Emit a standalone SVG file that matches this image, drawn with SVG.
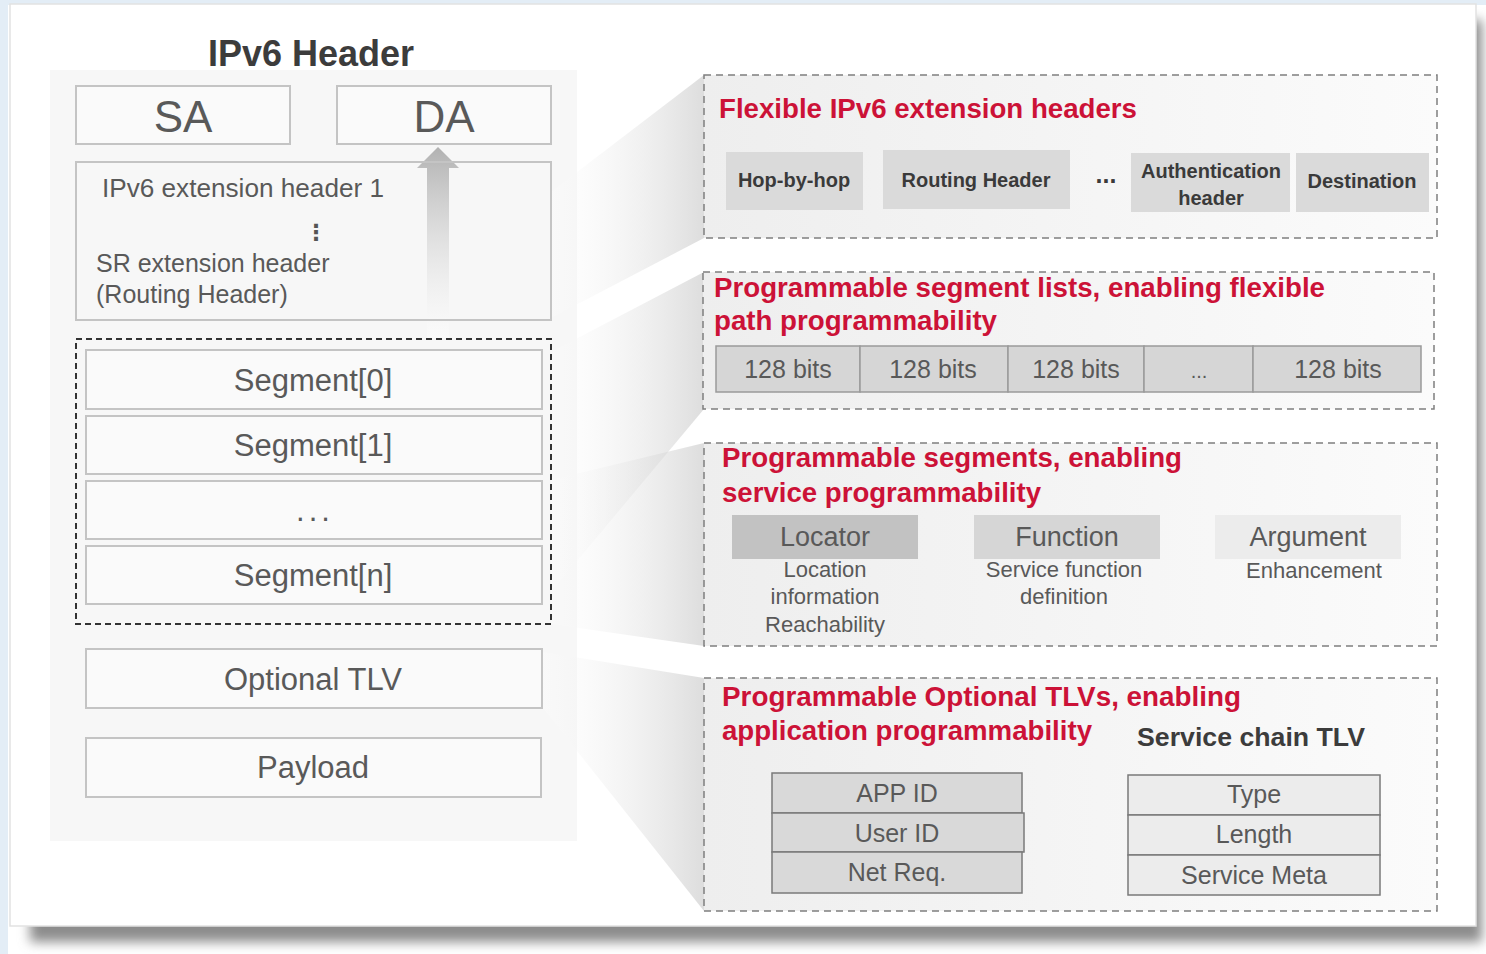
<svg xmlns="http://www.w3.org/2000/svg" width="1486" height="954" viewBox="0 0 1486 954">
  <defs>
    <style>
      .ttl { font-family: "Liberation Sans", Arial, sans-serif; font-weight: bold; fill: #3c3c3c; }
      .red { font-family: "Liberation Sans", Arial, sans-serif; font-weight: bold; font-size: 27px; fill: #cc1237; }
      .body { font-family: "Liberation Sans", Arial, sans-serif; fill: #595959; }
      .chip { font-family: "Liberation Sans", Arial, sans-serif; font-weight: bold; font-size: 20px; fill: #3a3a3a; }
      .mid { text-anchor: middle; }
      .field { fill: #fafafa; stroke: #c4c4c4; stroke-width: 2; }
      .zone { fill: url(#zoneFill); stroke: #7f7f7f; stroke-width: 1.5; stroke-dasharray: 7 5; }
      .chipbox { fill: #dadada; }
      .bits { fill: #d6d6d6; stroke: #9a9a9a; stroke-width: 1.5; }
      .tlvA { fill: #d9d9d9; stroke: #7a7a7a; stroke-width: 1.5; }
      .tlvB { fill: #ececec; stroke: #7a7a7a; stroke-width: 1.5; }
      .funnel { fill: url(#funnelFill); }
    </style>
    <linearGradient id="zoneFill" x1="0" y1="0" x2="1" y2="0">
      <stop offset="0" stop-color="#eeeeee"/>
      <stop offset="1" stop-color="#fbfbfb"/>
    </linearGradient>
    <linearGradient id="funnelFill" x1="0" y1="0" x2="1" y2="0">
      <stop offset="0" stop-color="#ffffff" stop-opacity="0.2"/>
      <stop offset="1" stop-color="#cbcbcb" stop-opacity="0.65"/>
    </linearGradient>
    <linearGradient id="arrowFill" gradientUnits="userSpaceOnUse" x1="0" y1="148" x2="0" y2="338">
      <stop offset="0" stop-color="#b2b2b2"/>
      <stop offset="1" stop-color="#ffffff" stop-opacity="0.4"/>
    </linearGradient>
    <filter id="blur" x="-5%" y="-5%" width="110%" height="110%">
      <feGaussianBlur stdDeviation="6"/>
    </filter>
  </defs>

  <!-- page backdrop and card -->
  <rect x="0" y="0" width="1486" height="954" fill="#ffffff"/>
  <rect x="0" y="0" width="1486" height="5" fill="#e3edf6"/>
  <rect x="0" y="0" width="8" height="954" fill="#e3edf6"/>
  <rect x="30" y="20" width="1452" height="922" fill="#8c8c8c" filter="url(#blur)"/>
  <rect x="10" y="4" width="1466" height="922" fill="#ffffff" stroke="#e2e2e2" stroke-width="1.5"/>

  <!-- left packet panel -->
  <rect x="50" y="70" width="527" height="771" fill="#f7f7f7"/>

  <!-- expansion wedges linking packet fields to detail zones -->
  <g id="connectors">
    <polygon class="funnel" points="551,192 704,75 704,238 551,318"/>
    <polygon class="funnel" points="551,352 704,272 704,409 551,592"/>
    <polygon class="funnel" points="551,480 704,443 704,646 551,624"/>
    <polygon class="funnel" points="543,652 704,678 704,911 543,708"/>
    <!-- DA pointer -->
    <polygon fill="url(#arrowFill)" points="427,338 427,168 417,168 438,147 459,168 449,168 449,338"/>
  </g>

  <g id="title">
    <text class="ttl mid" x="311" y="66" font-size="36">IPv6 Header</text>
  </g>

  <g id="sa">
    <rect class="field" x="76" y="86" width="214" height="58"/>
    <text class="body mid" x="183" y="132" font-size="44">SA</text>
  </g>
  <g id="da">
    <rect class="field" x="337" y="86" width="214" height="58"/>
    <text class="body mid" x="444" y="132" font-size="44">DA</text>
  </g>

  <g id="ext-headers">
    <rect x="76" y="162" width="475" height="158" fill="none" stroke="#c4c4c4" stroke-width="2"/>
    <text class="body" x="102" y="197" font-size="25" textLength="282" lengthAdjust="spacingAndGlyphs">IPv6 extension header 1</text>
    <text x="316" y="240" font-family="DejaVu Sans, sans-serif" font-size="22" font-weight="bold" fill="#555" text-anchor="middle">⋮</text>
    <text class="body" x="96" y="272" font-size="25">SR extension header</text>
    <text class="body" x="96" y="303" font-size="25">(Routing Header)</text>
  </g>

  <g id="segment-list">
    <rect x="76" y="339" width="475" height="285" fill="none" stroke="#333" stroke-width="2" stroke-dasharray="6 4"/>
    <rect class="field" x="86" y="350" width="456" height="59"/>
    <text class="body mid" x="313" y="391" font-size="31">Segment[0]</text>
    <rect class="field" x="86" y="416" width="456" height="58"/>
    <text class="body mid" x="313" y="456" font-size="31">Segment[1]</text>
    <rect class="field" x="86" y="481" width="456" height="58"/>
    <text class="body mid" x="315" y="521" font-size="31" letter-spacing="4">...</text>
    <rect class="field" x="86" y="546" width="456" height="58"/>
    <text class="body mid" x="313" y="586" font-size="31">Segment[n]</text>
  </g>

  <g id="optional-tlv">
    <rect class="field" x="86" y="649" width="456" height="59"/>
    <text class="body mid" x="313" y="690" font-size="31">Optional TLV</text>
  </g>
  <g id="payload">
    <rect class="field" x="86" y="738" width="455" height="59"/>
    <text class="body mid" x="313" y="778" font-size="31">Payload</text>
  </g>

  <!-- detail zone 1: extension headers -->
  <g id="zone-ext">
    <rect class="zone" x="704" y="75" width="733" height="163"/>
    <text class="red" x="719" y="118" textLength="418" lengthAdjust="spacingAndGlyphs">Flexible IPv6 extension headers</text>
    <rect class="chipbox" x="726" y="152" width="137" height="58"/>
    <text class="chip mid" x="794" y="187">Hop-by-hop</text>
    <rect class="chipbox" x="883" y="150" width="187" height="59"/>
    <text class="chip mid" x="976" y="187">Routing Header</text>
    <text class="chip mid" x="1106" y="183" style="font-size:25px">...</text>
    <rect class="chipbox" x="1131" y="153" width="159" height="59"/>
    <text class="chip mid" x="1211" y="178">Authentication</text>
    <text class="chip mid" x="1211" y="205">header</text>
    <rect class="chipbox" x="1296" y="153" width="133" height="59"/>
    <text class="chip mid" x="1362" y="188">Destination</text>
  </g>

  <!-- detail zone 2: segment list -->
  <g id="zone-list">
    <rect class="zone" x="703" y="272" width="731" height="137"/>
    <text class="red" x="714" y="297" textLength="611" lengthAdjust="spacingAndGlyphs">Programmable segment lists, enabling flexible</text>
    <text class="red" x="714" y="330" textLength="283" lengthAdjust="spacingAndGlyphs">path programmability</text>
    <rect class="bits" x="716" y="346" width="144" height="46"/>
    <rect class="bits" x="860" y="346" width="148" height="46"/>
    <rect class="bits" x="1008" y="346" width="136" height="46"/>
    <rect class="bits" x="1144" y="346" width="109" height="46"/>
    <rect class="bits" x="1253" y="346" width="168" height="46"/>
    <text class="body mid" x="788" y="378" font-size="25" fill="#444">128 bits</text>
    <text class="body mid" x="933" y="378" font-size="25">128 bits</text>
    <text class="body mid" x="1076" y="378" font-size="25">128 bits</text>
    <text class="body mid" x="1199" y="378" font-size="20">...</text>
    <text class="body mid" x="1338" y="378" font-size="25">128 bits</text>
  </g>

  <!-- detail zone 3: segment structure -->
  <g id="zone-segment">
    <rect class="zone" x="704" y="443" width="733" height="203"/>
    <text class="red" x="722" y="467" textLength="460" lengthAdjust="spacingAndGlyphs">Programmable segments, enabling</text>
    <text class="red" x="722" y="502" textLength="319" lengthAdjust="spacingAndGlyphs">service programmability</text>
    <rect x="732" y="515" width="186" height="44" fill="#c2c2c2"/>
    <text class="body mid" x="825" y="546" font-size="27" fill="#444">Locator</text>
    <rect x="974" y="515" width="186" height="44" fill="#d6d6d6"/>
    <text class="body mid" x="1067" y="546" font-size="27">Function</text>
    <rect x="1215" y="515" width="186" height="44" fill="#ececec"/>
    <text class="body mid" x="1308" y="546" font-size="27">Argument</text>
    <text class="body mid" x="825" y="577" font-size="22">Location</text>
    <text class="body mid" x="825" y="604" font-size="22">information</text>
    <text class="body mid" x="825" y="632" font-size="22">Reachability</text>
    <text class="body mid" x="1064" y="577" font-size="22">Service function</text>
    <text class="body mid" x="1064" y="604" font-size="22">definition</text>
    <text class="body mid" x="1314" y="578" font-size="22">Enhancement</text>
  </g>

  <!-- detail zone 4: optional TLVs -->
  <g id="zone-tlv">
    <rect class="zone" x="704" y="678" width="733" height="233"/>
    <text class="red" x="722" y="706" textLength="519" lengthAdjust="spacingAndGlyphs">Programmable Optional TLVs, enabling</text>
    <text class="red" x="722" y="740" textLength="370" lengthAdjust="spacingAndGlyphs">application programmability</text>
    <text class="ttl" x="1137" y="746" font-size="25" textLength="228" lengthAdjust="spacingAndGlyphs">Service chain TLV</text>
  </g>
  <g id="app-tlv">
    <rect class="tlvA" x="772" y="773" width="250" height="40"/>
    <rect class="tlvA" x="772" y="813" width="252" height="39"/>
    <rect class="tlvA" x="772" y="852" width="250" height="41"/>
    <text class="body mid" x="897" y="802" font-size="25">APP ID</text>
    <text class="body mid" x="897" y="842" font-size="25">User ID</text>
    <text class="body mid" x="897" y="881" font-size="25">Net Req.</text>
  </g>
  <g id="service-tlv">
    <rect class="tlvB" x="1128" y="775" width="252" height="40"/>
    <rect class="tlvB" x="1128" y="815" width="252" height="40"/>
    <rect class="tlvB" x="1128" y="855" width="252" height="40"/>
    <text class="body mid" x="1254" y="803" font-size="25">Type</text>
    <text class="body mid" x="1254" y="843" font-size="25">Length</text>
    <text class="body mid" x="1254" y="884" font-size="25">Service Meta</text>
  </g>
</svg>
